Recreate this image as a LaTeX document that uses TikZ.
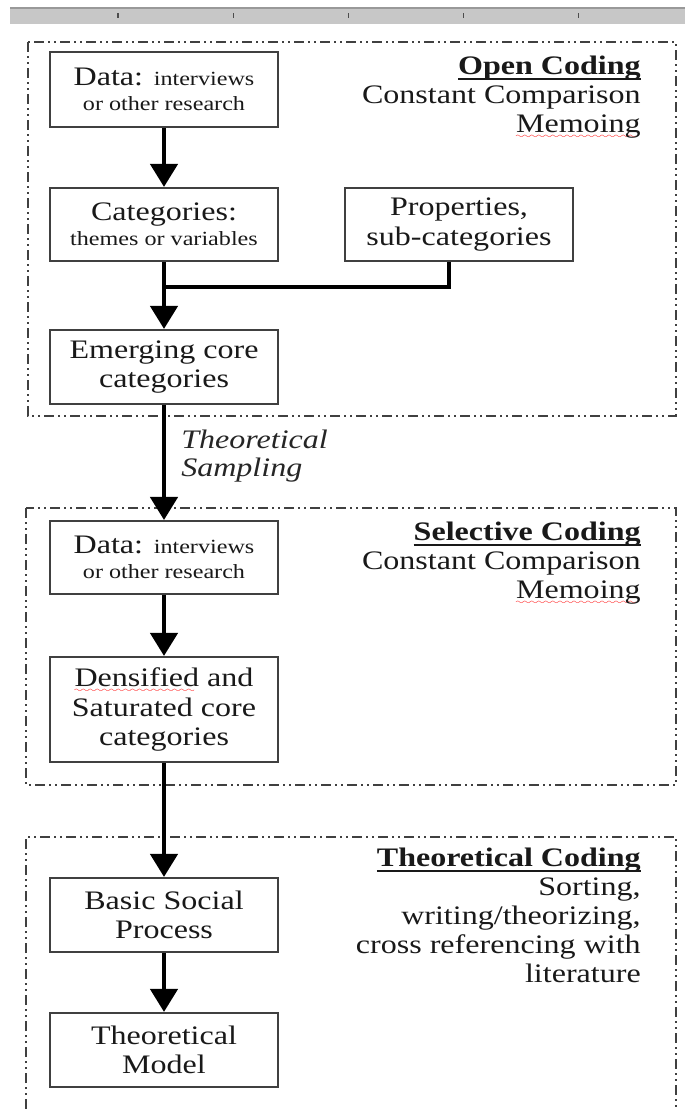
\documentclass[tikz,border=0pt]{standalone}
\usepackage{fontspec}
\setmainfont[FakeStretch=1.2]{Liberation Serif}
\usetikzlibrary{arrows.meta}

\newsavebox\headbox
\newsavebox\spellbox
\font\wavefont=lasy6
\newcommand\spelling[1]{\sbox\spellbox{#1}%
  \rlap{\leaders\hbox{\textcolor{red}{\lower4pt\hbox{\wavefont\char58}}}\hskip\wd\spellbox}\usebox\spellbox}
\newcommand\phasehead[1]{\sbox\headbox{\textbf{#1}}%
  \rlap{\rule[-3.5pt]{\wd\headbox}{1.3pt}}\usebox\headbox}
\newcommand\boxfont{\fontsize{19}{21}\selectfont}
\newcommand\notefont{\fontsize{14.3}{16}\selectfont}

\begin{document}
\begin{tikzpicture}[
    stage/.style={draw=black!75, line width=1.5pt, minimum width=5.7cm, minimum height=1.85cm,
      inner sep=0pt, align=center, font=\boxfont, text=black!90},
    phase/.style={draw=black!75, line width=1.5pt,
      dash pattern=on 0.25cm off 0.1cm on 0.05cm off 0.1cm on 0.05cm off 0.1cm},
    flow/.style={line width=3.2pt, -{Triangle[width=0.68cm,length=0.58cm]}},
    feed/.style={line width=3.2pt},
    phasetitle/.style={anchor=north east, inner sep=0pt, align=right,
      font=\fontsize{19}{20.5}\selectfont, text=black!90},
    sampling/.style={anchor=north west, inner sep=0pt, align=left,
      font=\fontsize{19}{19.5}\selectfont\itshape, text=black!85},
  ]
    \useasboundingbox (0,0) rectangle (17.125,-27.725);
    \fill[white] (0,0) rectangle (17.125,-27.725);

    % ruler strip along the top
    \fill[black!22] (0.25,-0.2) rectangle (17.125,-0.6);
    \draw[black!40, line width=1pt] (0.25,-0.2) -- (17.125,-0.2);
    \foreach \x in {2.95,5.83,8.71,11.59,14.47}
      \draw[black!70, line width=0.8pt] (\x,-0.33) -- (\x,-0.45);

    % the three coding phases
    \draw[phase] (0.7,-1.05) rectangle (16.9,-10.4);
    \draw[phase] (0.65,-12.7) rectangle (16.9,-19.625);
    \draw[phase] (0.65,-27.725) |- (16.9,-20.925) -- (16.9,-27.725);

    \node[phasetitle] (opentitle) at (16.025,-1.4)
      {\phasehead{Open Coding}\\Constant Comparison\\\spelling{Memoing}};
    \node[phasetitle] (seltitle) at (16.025,-13.05)
      {\phasehead{Selective Coding}\\Constant Comparison\\\spelling{Memoing}};
    \node[phasetitle] (theotitle) at (16.025,-21.2)
      {\phasehead{Theoretical Coding}\\Sorting,\\writing/theorizing,\\cross referencing with\\literature};

    % the steps
    \node[stage, minimum height=1.875cm] (data1) at (4.1,-2.24)
      {Data: {\notefont interviews}\\[-3pt]{\notefont or other research}};
    \node[stage, minimum height=1.825cm] (cat) at (4.1,-5.6125)
      {Categories:\\[-3pt]{\notefont themes or variables}};
    \node[stage, minimum height=1.825cm] (props) at (11.475,-5.6125)
      {Properties,\\sub-categories};
    \node[stage] (emerg) at (4.1,-9.175) {Emerging core\\categories};
    \node[stage, minimum height=1.825cm] (data2) at (4.1,-13.94)
      {Data: {\notefont interviews}\\[-3pt]{\notefont or other research}};
    \node[stage, minimum height=2.625cm] (dens) at (4.1,-17.7375)
      {\spelling{Densified} and\\Saturated core\\categories};
    \node[stage] (basic) at (4.1,-22.875) {Basic Social\\Process};
    \node[stage] (model) at (4.1,-26.25) {Theoretical\\Model};

    % arrows between the steps
    \coordinate (join) at (4.1,-7.175);
    \draw[flow] (data1) -- (cat);
    \draw[feed] ([xshift=-0.25cm]props.south) |- (join);
    \draw[flow] (cat) -- (emerg);
    \draw[flow] (emerg) -- node[sampling, pos=0.2, xshift=0.375cm] (samp) {Theoretical\\Sampling} (data2);
    \draw[flow] (data2) -- (dens);
    \draw[flow] (dens) -- (basic);
    \draw[flow] (basic) -- (model);
\end{tikzpicture}
\end{document}
